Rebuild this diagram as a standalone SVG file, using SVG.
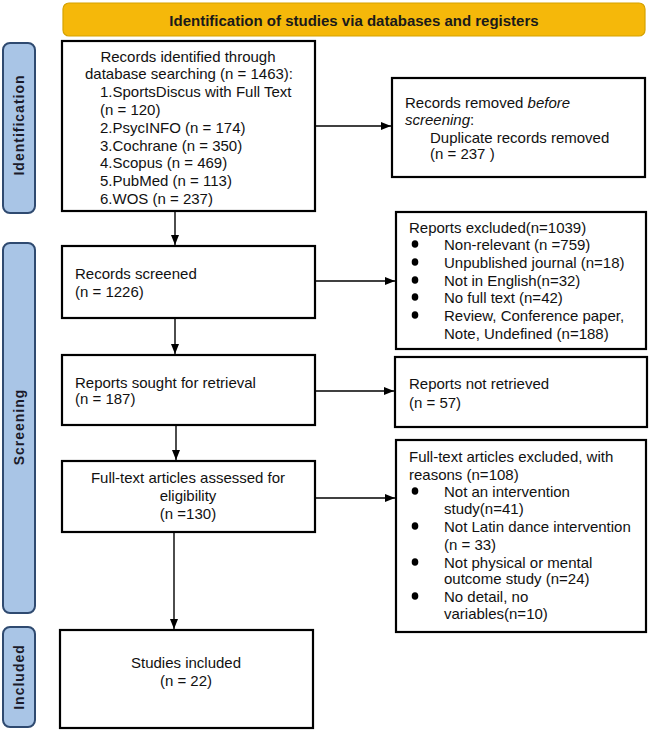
<svg xmlns="http://www.w3.org/2000/svg" width="650" height="730" viewBox="0 0 650 730">
<defs>
<marker id="ah" markerWidth="10" markerHeight="8" refX="10" refY="4" orient="auto" markerUnits="userSpaceOnUse">
<path d="M0,0 L10,4 L0,8 Z" fill="#000"/>
</marker>
<style>
.box{fill:#fff;stroke:#000;stroke-width:2.2}
.t{font-family:"Liberation Sans",Arial,sans-serif;font-size:15px;fill:#111}
.c{text-anchor:middle}
.side{fill:#A9C5E6;stroke:#2F4A70;stroke-width:2}
.st{font-family:"Liberation Sans",Arial,sans-serif;font-size:14px;font-weight:bold;letter-spacing:1px;fill:#1a1a2a;text-anchor:middle}
.ln{stroke:#000;stroke-width:1.4;fill:none;marker-end:url(#ah)}
.dot{fill:#000}
</style>
</defs>
<rect width="650" height="730" fill="#fff"/>

<g id="header">
<rect x="63" y="3" width="582" height="33" rx="6" fill="#F5B80A" stroke="#D6A200" stroke-width="1.2"/>
<text x="354" y="26" style="font-family:'Liberation Sans',Arial,sans-serif;font-size:15px;font-weight:bold;fill:#1a1a1a" text-anchor="middle">Identification of studies via databases and registers</text>
</g>

<g id="side-identification">
<rect class="side" x="3" y="43" width="32" height="170" rx="7"/>
<text class="st" transform="translate(24,125) rotate(-90)">Identification</text>
</g>
<g id="side-screening">
<rect class="side" x="3" y="243" width="32" height="370" rx="7"/>
<text class="st" transform="translate(24,427) rotate(-90)">Screening</text>
</g>
<g id="side-included">
<rect class="side" x="3" y="627" width="32" height="100" rx="7"/>
<text class="st" transform="translate(24,677) rotate(-90)">Included</text>
</g>

<g id="records-identified">
<rect class="box" x="62" y="41" width="253" height="170"/>
<text class="t c" x="188" y="61.5">Records identified through</text>
<text class="t c" x="189" y="79.3">database searching (n = 1463):</text>
<text class="t" x="100" y="97.1">1.SportsDiscus with Full Text</text>
<text class="t" x="100" y="114.9">(n = 120)</text>
<text class="t" x="100" y="132.7">2.PsycINFO (n = 174)</text>
<text class="t" x="100" y="150.5">3.Cochrane (n = 350)</text>
<text class="t" x="100" y="168.3">4.Scopus (n = 469)</text>
<text class="t" x="100" y="186.1">5.PubMed (n = 113)</text>
<text class="t" x="100" y="203.9">6.WOS (n = 237)</text>
</g>

<g id="records-removed">
<rect class="box" x="392" y="78" width="253" height="99"/>
<text class="t" x="405" y="107.5">Records removed <tspan font-style="italic">before</tspan></text>
<text class="t" x="405" y="125"><tspan font-style="italic">screening</tspan>:</text>
<text class="t" x="430" y="142.5">Duplicate records removed</text>
<text class="t" x="430" y="159">(n = 237 )</text>
</g>

<g id="records-screened">
<rect class="box" x="62" y="246" width="253" height="72"/>
<text class="t" x="75" y="278.5">Records screened</text>
<text class="t" x="75" y="297">(n = 1226)</text>
</g>

<g id="reports-excluded">
<rect class="box" x="396" y="212" width="250" height="137"/>
<text class="t" x="409" y="232.5">Reports excluded(n=1039)</text>
<ellipse class="dot" cx="415" cy="244" rx="3.3" ry="3.8"/>
<text class="t" x="444" y="249.5">Non-relevant (n =759)</text>
<ellipse class="dot" cx="415" cy="262" rx="3.3" ry="3.8"/>
<text class="t" x="444" y="267.5">Unpublished journal (n=18)</text>
<ellipse class="dot" cx="415" cy="280" rx="3.3" ry="3.8"/>
<text class="t" x="444" y="285.5">Not in English(n=32)</text>
<ellipse class="dot" cx="415" cy="297" rx="3.3" ry="3.8"/>
<text class="t" x="444" y="302.5">No full text (n=42)</text>
<ellipse class="dot" cx="415" cy="315" rx="3.3" ry="3.8"/>
<text class="t" x="444" y="321">Review, Conference paper,</text>
<text class="t" x="444" y="338.5">Note, Undefined (n=188)</text>
</g>

<g id="reports-sought">
<rect class="box" x="62" y="355" width="253" height="70"/>
<text class="t" x="75" y="387.5">Reports sought for retrieval</text>
<text class="t" x="75" y="403.5">(n = 187)</text>
</g>

<g id="reports-not-retrieved">
<rect class="box" x="395" y="357" width="252" height="70"/>
<text class="t" x="409" y="388.5">Reports not retrieved</text>
<text class="t" x="409" y="408">(n = 57)</text>
</g>

<g id="fulltext-assessed">
<rect class="box" x="62" y="461" width="253" height="71"/>
<text class="t c" x="188" y="482.5">Full-text articles assessed for</text>
<text class="t c" x="188" y="501">eligibility</text>
<text class="t c" x="188" y="518.5">(n =130)</text>
</g>

<g id="fulltext-excluded">
<rect class="box" x="396" y="440" width="250" height="192"/>
<text class="t" x="409" y="461.5">Full-text articles excluded, with</text>
<text class="t" x="409" y="479.5">reasons (n=108)</text>
<ellipse class="dot" cx="415" cy="491" rx="3.3" ry="3.8"/>
<text class="t" x="444" y="496.5">Not an intervention</text>
<text class="t" x="444" y="513.5">study(n=41)</text>
<ellipse class="dot" cx="415" cy="526" rx="3.3" ry="3.8"/>
<text class="t" x="444" y="531.5">Not Latin dance intervention</text>
<text class="t" x="444" y="549.5">(n = 33)</text>
<ellipse class="dot" cx="415" cy="562" rx="3.3" ry="3.8"/>
<text class="t" x="444" y="567.5">Not physical or mental</text>
<text class="t" x="444" y="583.5">outcome study (n=24)</text>
<ellipse class="dot" cx="415" cy="596" rx="3.3" ry="3.8"/>
<text class="t" x="444" y="601.5">No detail, no</text>
<text class="t" x="444" y="618.5">variables(n=10)</text>
</g>

<g id="studies-included">
<rect class="box" x="60" y="630" width="253" height="98"/>
<text class="t c" x="186" y="667.5">Studies included</text>
<text class="t c" x="186" y="685.5">(n = 22)</text>
</g>

<g id="connectors">
<line class="ln" x1="315" y1="126" x2="391" y2="126"/>
<line class="ln" x1="175" y1="211" x2="175" y2="245"/>
<line class="ln" x1="315" y1="281" x2="395" y2="281"/>
<line class="ln" x1="175" y1="318" x2="175" y2="354"/>
<line class="ln" x1="315" y1="391" x2="394" y2="391"/>
<line class="ln" x1="176" y1="425" x2="176" y2="460"/>
<line class="ln" x1="315" y1="498" x2="395" y2="498"/>
<line class="ln" x1="174" y1="532" x2="174" y2="629"/>
</g>
</svg>
